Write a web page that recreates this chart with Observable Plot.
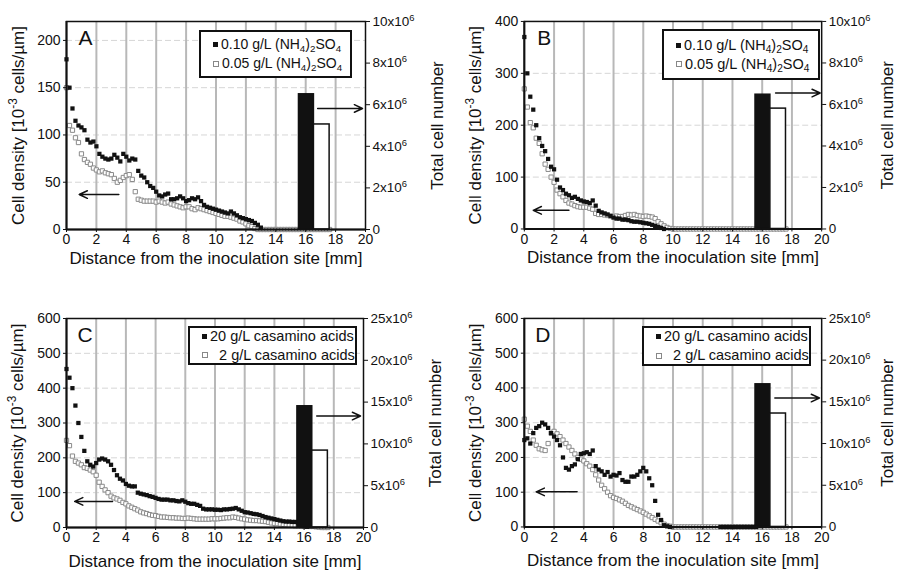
<!DOCTYPE html>
<html><head><meta charset="utf-8">
<script src="https://cdn.jsdelivr.net/npm/d3@7"></script>
<script src="https://cdn.jsdelivr.net/npm/@observablehq/plot@0.6"></script>
<style>
body{margin:0;background:#fff;font-family:"Liberation Sans",Arial,sans-serif;color:#111}
#wrap{position:relative;width:899px;height:571px;overflow:hidden}
.panel{position:absolute}
.legend{position:absolute;background:#fff;border:2px solid #111;box-sizing:border-box;display:flex;flex-direction:column;justify-content:center;padding-left:12px;gap:2px;white-space:nowrap}
.row{display:flex;align-items:center;line-height:17px}
.mk{display:inline-block;width:5px;height:5px;margin-right:3px;box-sizing:border-box;flex:none}
.mk.b{background:#111}
.mk.g{border:1px solid #888;background:#fff;width:6px;height:6px}
.lab sub{font-size:70%;vertical-align:-3px;line-height:0}
</style></head>
<body><div id="wrap"></div>
<script>
// ---------- data ----------
const dist = [0,0.2,0.4,0.6,0.8,1,1.2,1.4,1.6,1.8,2,2.2,2.4,2.6,2.8,3,3.2,3.4,3.6,3.8,4,4.2,4.4,4.6,4.8,5,5.2,5.4,5.6,5.8,6,6.2,6.4,6.6,6.8,7,7.2,7.4,7.6,7.8,8,8.2,8.4,8.6,8.8,9,9.2,9.4,9.6,9.8,10,10.2,10.4,10.6,10.8,11,11.2,11.4,11.6,11.8,12,12.2,12.4,12.6,12.8,13,13.2,13.4,13.6,13.8,14,14.2,14.4,14.6,14.8,15,15.2,15.4,15.6,15.8,16,16.2,16.4,16.6,16.8,17,17.2,17.4,17.6];

// Panel A: (NH4)2SO4
const aHigh = [180,150,128,115,110,108,105,95,92,93, 88,80,77,75,74,75,79,76,72,80, 77,73,75,74,62,57,55,50,46,44, 40,36,35,37,38,32,32,33,35,33, 30,31,33,32,34,30,26,24,23,22, 21,20,19,18,17,19,17,15,13,12, 11,10,9,7,5,2];
const aLow = [150,110,105,97,92,80,74,71,69,65, 63,61,62,60,59,58,54,50,52,55, 57,58,53,40,32,31,30,30,30,30, 29,30,29,28,29,27,26,25,24,23, 24,24,22,21,23,22,21,20,19,18, 17,16,15,14,14,13,12,11,9,8, 6,4,3,1,0,0, 0,0,0,0,0,0,0,0,0,0, 0,0,0,0,0,0,0,0,0,0, 0,0,0];
// Panel B: (NH4)2SO4
const bHigh = [370,300,255,230,200,175,160,150,135,120, 115,95,80,75,68,65,60,62,58,55, 53,52,50,55,45,35,32,30,28,25, 22,20,20,18,18,17,15,14,14,13, 12,11,10,8,6,4,2,0];
const bLow = [270,235,205,195,175,165,145,125,115,100, 90,75,68,62,55,50,48,45,43,42, 42,42,40,38,30,28,28,27,26,25, 24,25,24,24,26,28,27,28,26,25, 24,25,24,23,20,14,10,6,3,1, 0,0,0,0,0,0,0,0,0,0, 0,0,0,0,0,0,0,0,0,0, 0,0,0,0,0,0,0,0,0,0, 0,0,0,0,0,0,0,0,0];
// Panel C: casamino acids
const cHigh = [455,430,400,350,300,260,220,190,180,175, 185,195,198,195,190,180,165,150,140,135, 125,120,118,118,100,97,95,93,90,88, 85,82,80,80,80,78,78,76,75,78, 74,70,68,68,65,62,54,52,52,52, 51,51,50,52,52,53,54,56,52,48, 44,43,41,39,38,36,33,30,28,26, 24,22,20,18,17,17,16,16,14,10, 5,2];
const cLow = [250,235,205,190,185,180,172,170,165,160, 150,130,118,108,100,90,85,82,78,72, 68,62,58,54,50,45,42,40,37,35, 34,32,30,30,29,28,28,27,27,26, 26,27,26,25,24,24,24,24,24,25, 25,25,26,27,28,28,30,29,27,25, 24,22,21,20,20,19,18,17,15,13, 12,11,10,9,8,7,6,5,5,5, 4,4,3,3,2,1,0,0,0];
// Panel D: casamino acids
const dHigh = [250,255,240,270,285,290,300,295,285,270, 260,250,235,200,170,165,175,180,195,210, 212,215,210,220,175,165,160,150,158,145, 150,148,155,135,130,130,145,145,150,160, 170,160,140,120,75,35,20,5,2,0, null,null,null,null,null,null,null,null,null,null, null,null,null,null,null,null, 0,0,0,0,0,0,0,0,0,0, 0,0,0];
const dLow = [310,290,275,250,235,225,222,220,240,270, 275,268,260,250,240,230,220,210,200,195, 190,182,175,165,150,135,120,110,100,90, 85,82,78,74,68,62,58,54,50,46, 42,37,32,27,22,17,12,8,4,2, 0,0,0,0,0,0,0,0,0,0, 0,0,0,0,0,0,0,0,0,0, 0,0,0,0,0,0,0,0,0,0, 0,0,0,0,0,0,0,0,0];

// total cell numbers (bars): [high, low]
const totalA = [6.5e6, 5.05e6];
const totalB = [6.47e6, 5.8e6];
const totalC = [14.5e6, 9.2e6];
const totalD = [17.1e6, 13.6e6];
const barX1 = [15.55, 16.55];
const barX2 = [16.55, 17.6];

// tick labels
const xTicks = [0,2,4,6,8,10,12,14,16,18,20];
const leftTicksA = [0,50,100,150,200];
const leftTicksB = [0,100,200,300,400];
const leftTicksCD = [0,100,200,300,400,500,600];
const rightValsAB = [0,2e6,4e6,6e6,8e6,10e6];
const rightLabelsAB = ["0","2x10^{6}","4x10^{6}","6x10^{6}","8x10^{6}","10x10^{6}"];
const rightValsCD = [0,5e6,10e6,15e6,20e6,25e6];
const rightLabelsCD = ["0","5x10^{6}","10x10^{6}","15x10^{6}","20x10^{6}","25x10^{6}"];

// annotation arrows (data units: mm, left-axis units) [x1,y1,x2,y2]
const arrowsA = [[3.5,37,0.85,37],[16.8,128,19.8,128]];
const arrowsB = [[3.0,36,0.6,36],[16.9,262,19.9,262]];
const arrowsC = [[3.1,75,0.55,75],[16.85,320,19.8,320]];
const arrowsD = [[3.55,101,0.8,101],[16.85,371,19.85,371]];

const yLabel = "Cell density [10^{-3} cells/µm]";
const y2Label = "Total cell number";
const xLabel = "Distance from the inoculation site [mm]";

// ---------- drawing ----------
const NS = "http://www.w3.org/2000/svg";
function richify(root){
  root.querySelectorAll("text").forEach(t=>{
    const s = t.textContent;
    if(!/[\^_]\{/.test(s)) return;
    t.textContent = "";
    const re = /([\^_])\{([^}]*)\}/g; let last=0, m;
    const add=(str,shift)=>{const ts=document.createElementNS(NS,"tspan");ts.textContent=str;
      if(shift){ts.setAttribute("font-size","70%");ts.setAttribute("baseline-shift",shift<0?"super":"sub");}
      t.appendChild(ts);};
    while((m=re.exec(s))){ if(m.index>last) add(s.slice(last,m.index),0); add(m[2], m[1]==="^"?-1:1); last=re.lastIndex; }
    if(last<s.length) add(s.slice(last),0);
  });
}

function panel(cfg){
  const pts = (arr)=>dist.map((x,i)=>({x, y: arr[i]})).filter(d=>d.y!=null);
  const k = cfg.ymax / cfg.rmax;
  const bars = cfg.totals.map((v,i)=>({x1:barX1[i], x2:barX2[i], y:v*k, i}));
  const rTicks = cfg.rVals.map(v=>v*k);
  const rMap = new Map(rTicks.map((v,i)=>[v,cfg.rLabels[i]]));
  const arrows = cfg.arrows.map(a=>({x1:a[0],y1:a[1],x2:a[2],y2:a[3]}));
  const svg = Plot.plot({
    width:450, height:cfg.h,
    marginLeft:cfg.ml, marginRight:cfg.mr, marginTop:cfg.mt, marginBottom:cfg.mb,
    style:{fontFamily:'"Liberation Sans", Arial, sans-serif', fontSize:"14px", color:"#111", background:"#fff", overflow:"visible"},
    x:{domain:[0,20]},
    y:{domain:[0,cfg.ymax]},
    marks:[
      Plot.ruleY(cfg.lTicks.slice(1), {stroke:"#d6d6d6", strokeDasharray:"6,3", strokeWidth:1}),
      Plot.ruleX(xTicks.slice(1,-1), {stroke:"#b8b8b8", strokeWidth:2}),
      Plot.dot(pts(cfg.low), {x:"x", y:"y", symbol:"square", r:2.4, fill:"#fff", stroke:"#8a8a8a", strokeWidth:1}),
      Plot.dot(pts(cfg.high), {x:"x", y:"y", symbol:"square", r:2.4, fill:"#111", stroke:"none"}),
      Plot.rectY(bars, {x1:"x1", x2:"x2", y1:0, y2:"y", fill:d=>d.i===0?"#111":"#fff", stroke:"#111", strokeWidth:1.5}),
      Plot.arrow(arrows, {x1:"x1", y1:"y1", x2:"x2", y2:"y2", stroke:"#111", strokeWidth:1.5, headLength:9, headAngle:50}),
      Plot.frame({stroke:"#111", strokeWidth:1.5}),
      Plot.ruleX([0], {stroke:"#111", strokeWidth:2}),
      Plot.ruleY([0], {stroke:"#111", strokeWidth:2}),
      Plot.axisX(xTicks, {tickSize:3, tickPadding:2, label:null, fontSize:14}),
      Plot.axisY(cfg.lTicks, {anchor:"left", tickSize:3, tickPadding:3, label:null, fontSize:14}),
      Plot.axisY(rTicks, {anchor:"right", tickSize:4, tickPadding:3, label:null, fontSize:13.5, tickFormat:d=>rMap.get(d)}),
      Plot.text([yLabel], {frameAnchor:"left", dx:cfg.ylx, rotate:-90, textAnchor:"middle", lineAnchor:"middle", fontSize:17}),
      Plot.text([y2Label], {frameAnchor:"right", dx:cfg.y2x, rotate:-90, textAnchor:"middle", lineAnchor:"middle", fontSize:17}),
      Plot.text([xLabel], {frameAnchor:"bottom", dy:cfg.xly, textAnchor:"middle", lineAnchor:"middle", fontSize:17}),
      Plot.text([cfg.letter], {frameAnchor:"top-left", dx:cfg.ldx, dy:cfg.ldy, textAnchor:"start", lineAnchor:"top", fontSize:21})
    ]
  });
  richify(svg);
  const div = document.createElement("div");
  div.className = "panel";
  div.style.left = cfg.left+"px"; div.style.top = cfg.top+"px";
  div.appendChild(svg);
  document.getElementById("wrap").appendChild(div);
}

function legend(box, labels, fs){
  const d = document.createElement("div");
  d.className = "legend";
  Object.assign(d.style, {left:box[0]+"px", top:box[1]+"px", width:box[2]+"px", height:box[3]+"px", fontSize:fs+"px"});
  d.innerHTML = `<div class="row"><span class="mk b"></span><span class="lab">${labels[0]}</span></div><div class="row"><span class="mk g"></span><span class="lab">${labels[1]}</span></div>`;
  document.getElementById("wrap").appendChild(d);
}

panel({left:0, top:0, h:285, ml:66, mr:85, mt:21, mb:56, ymax:220, rmax:10e6, low:aLow, high:aHigh, totals:totalA,
  lTicks:leftTicksA, rVals:rightValsAB, rLabels:rightLabelsAB, arrows:arrowsA, ylx:-48, y2x:72, xly:29, letter:"A", ldx:12, ldy:9});
panel({left:450, top:0, h:285, ml:74, mr:78, mt:21, mb:56, ymax:400, rmax:10e6, low:bLow, high:bHigh, totals:totalB,
  lTicks:leftTicksB, rVals:rightValsAB, rLabels:rightLabelsAB, arrows:arrowsB, ylx:-49, y2x:66, xly:29, letter:"B", ldx:13, ldy:9});
panel({left:0, top:285, h:286, ml:66, mr:87, mt:33, mb:44, ymax:600, rmax:25e6, low:cLow, high:cHigh, totals:totalC,
  lTicks:leftTicksCD, rVals:rightValsCD, rLabels:rightLabelsCD, arrows:arrowsC, ylx:-49, y2x:72, xly:34, letter:"C", ldx:11, ldy:9});
panel({left:450, top:285, h:286, ml:74, mr:78, mt:33, mb:44, ymax:600, rmax:25e6, low:dLow, high:dHigh, totals:totalD,
  lTicks:leftTicksCD, rVals:rightValsCD, rLabels:rightLabelsCD, arrows:arrowsD, ylx:-49, y2x:66, xly:34, letter:"D", ldx:11, ldy:9});

const nh = ["0.10 g/L (NH<sub>4</sub>)<sub>2</sub>SO<sub>4</sub>", "0.05 g/L (NH<sub>4</sub>)<sub>2</sub>SO<sub>4</sub>"];
const cas = ["20 g/L casamino acids", "&nbsp;&nbsp;2 g/L casamino acids"];
legend([199,30,153,48], nh, 14);
legend([662,29,158,51], nh, 14.5);
legend([188,326,169,39], cas, 14.5);
legend([642,326,169,40], cas, 14.5);
</script></body></html>
